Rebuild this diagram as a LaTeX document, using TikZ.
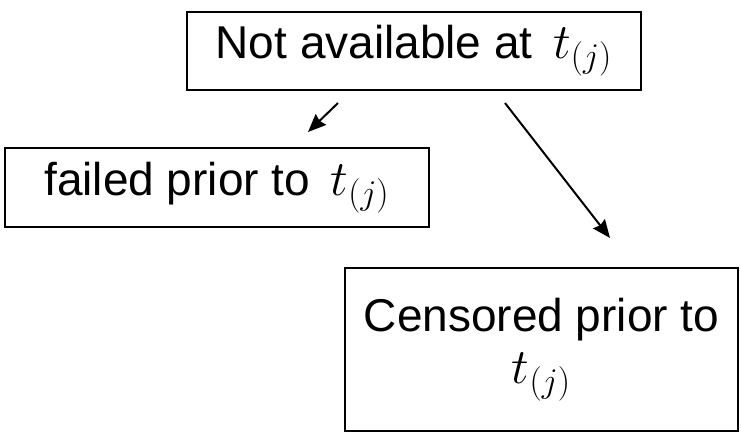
\documentclass[tikz,border=0pt]{standalone}
\usepackage{fontspec}
\setmainfont{Liberation Sans}
\usetikzlibrary{arrows.meta, positioning}

\begin{document}
\begin{tikzpicture}[x=0.5pt, y=-0.5pt,
		every node/.style={font=\fontsize{23}{26}\selectfont},
		box/.style={draw, line width=1.1pt, inner sep=0pt, align=center},
		arr/.style={-{Stealth[length=9pt,width=7.5pt,inset=1pt]}, line width=1pt}]
		\useasboundingbox (0,0) rectangle (741,433);
		\node[box, minimum width=227pt, minimum height=39pt] (na) at (414,51) {Not available at\, $t_{(j)}$};
		\node[box, minimum width=212pt, minimum height=39.5pt] (fp) at (217,187.5) {failed prior to\, $t_{(j)}$};
		\node[box, minimum width=196.5pt, minimum height=81.5pt] (cp) at (541.5,349.5) {Censored prior to\\$t_{(j)}$};
		\coordinate (a1s) at (338,103); \coordinate (a1e) at (308,132);
		\coordinate (a2s) at (505,103); \coordinate (a2e) at (610,238);
		\draw[arr] (a1s) -- (a1e);
		\draw[arr] (a2s) -- (a2e);
	\end{tikzpicture}
\end{document}
